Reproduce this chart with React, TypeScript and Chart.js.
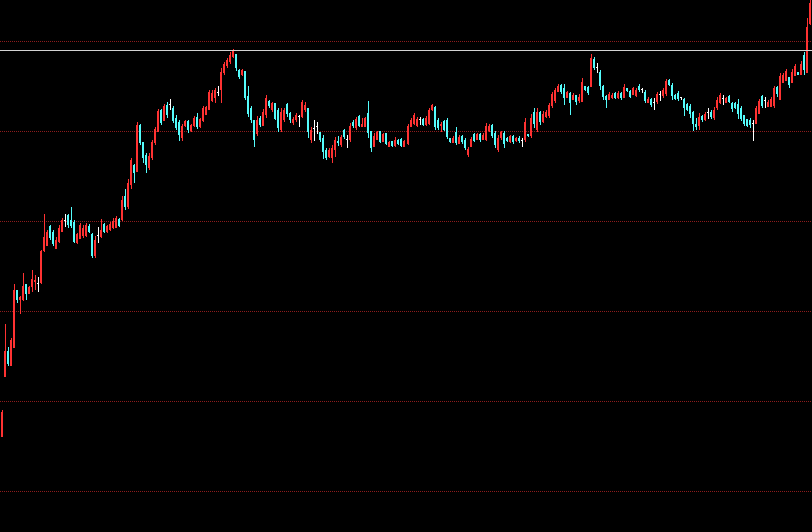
import React, { useEffect, useRef } from "react";
import { Chart, registerables } from "chart.js";

Chart.register(...registerables);

// Price values (arbitrary chart units), one entry per trading period, left to right.
const openPrices = [
  95, 155, 181, 166, 184, 242, 232, 232, 248, 238,
  245, 250, 248, 249, 281, 286, 306, 300, 283, 290,
  300, 311, 317, 312, 310, 289, 293, 296, 296, 306,
  298, 276, 296, 295, 308, 300, 302, 304, 304, 313,
  312, 336, 325, 347, 367, 360, 407, 390, 377, 364,
  374, 389, 400, 422, 411, 427, 427, 424, 414, 410,
  394, 406, 411, 401, 406, 415, 405, 411, 417, 422,
  431, 434, 439, 442, 459, 466, 470, 475, 478, 462,
  457, 461, 436, 424, 412, 398, 414, 406, 417, 431,
  422, 429, 422, 402, 412, 428, 419, 409, 412, 415,
  415, 422, 424, 392, 403, 405, 400, 394, 382, 375,
  374, 382, 391, 387, 402, 392, 392, 410, 404, 416,
  405, 405, 419, 401, 385, 392, 401, 390, 399, 385,
  391, 386, 392, 393, 385, 388, 405, 408, 406, 412,
  413, 407, 408, 422, 425, 412, 406, 411, 412, 394,
  389, 400, 388, 396, 392, 377, 385, 398, 392, 398,
  392, 392, 401, 407, 399, 382, 394, 399, 394, 390,
  396, 391, 394, 391, 392, 398, 396, 420, 402, 420,
  410, 415, 416, 426, 431, 440, 447, 444, 434, 439,
  432, 437, 431, 430, 446, 445, 445, 473, 464, 460,
  446, 436, 432, 434, 439, 434, 439, 434, 444, 441,
  437, 436, 446, 442, 440, 429, 433, 429, 430, 437,
  436, 438, 452, 447, 437, 439, 434, 433, 428, 426,
  420, 408, 406, 416, 412, 419, 420, 414, 424, 429,
  433, 429, 436, 429, 429, 428, 424, 417, 413, 412,
  408, 408, 418, 436, 431, 425, 425, 426, 445, 432,
  449, 451, 455, 449, 456, 460, 457, 477, 459, 508,
];

const highPrices = [
  122, 208, 185, 194, 248, 242, 236, 259, 248, 246,
  262, 257, 255, 282, 318, 302, 307, 302, 295, 307,
  314, 318, 318, 325, 312, 299, 309, 307, 309, 308,
  299, 296, 305, 313, 309, 307, 310, 314, 316, 314,
  336, 343, 353, 374, 368, 410, 408, 390, 379, 379,
  392, 405, 423, 423, 428, 430, 433, 426, 417, 412,
  408, 412, 412, 408, 416, 419, 414, 426, 426, 442,
  442, 444, 446, 464, 470, 474, 480, 483, 478, 463,
  463, 461, 446, 426, 412, 416, 416, 423, 437, 432,
  430, 429, 424, 424, 424, 429, 420, 415, 419, 417,
  432, 430, 424, 405, 412, 410, 400, 397, 384, 384,
  387, 395, 396, 397, 403, 397, 409, 412, 415, 417,
  414, 415, 431, 401, 399, 401, 401, 399, 399, 391,
  391, 395, 393, 394, 392, 408, 414, 419, 415, 415,
  414, 416, 424, 428, 426, 414, 410, 412, 414, 394,
  396, 405, 397, 397, 394, 385, 395, 399, 399, 399,
  399, 409, 408, 408, 401, 397, 401, 401, 395, 397,
  397, 395, 396, 394, 414, 398, 418, 424, 424, 421,
  421, 422, 429, 440, 444, 448, 448, 448, 441, 440,
  439, 437, 438, 454, 446, 446, 478, 475, 469, 462,
  447, 437, 440, 439, 440, 441, 440, 448, 444, 442,
  445, 444, 448, 444, 442, 435, 434, 434, 440, 441,
  444, 453, 453, 449, 438, 441, 435, 434, 429, 428,
  421, 414, 419, 417, 420, 424, 422, 425, 435, 439,
  437, 435, 437, 430, 430, 433, 426, 417, 413, 414,
  412, 426, 433, 437, 435, 432, 435, 446, 446, 459,
  459, 463, 455, 463, 468, 460, 471, 480, 514, 532,
];

const lowPrices = [
  95, 155, 166, 166, 184, 229, 218, 231, 232, 238,
  240, 242, 240, 248, 280, 286, 292, 286, 283, 289,
  300, 305, 304, 304, 289, 288, 293, 294, 295, 299,
  274, 274, 289, 294, 299, 299, 301, 303, 304, 305,
  311, 322, 323, 343, 349, 360, 387, 369, 359, 362,
  372, 387, 400, 407, 411, 414, 422, 409, 402, 391,
  391, 405, 399, 400, 405, 403, 404, 410, 417, 422,
  430, 429, 436, 429, 457, 464, 468, 474, 461, 453,
  456, 432, 415, 409, 385, 396, 405, 406, 414, 424,
  420, 412, 400, 400, 410, 415, 409, 407, 410, 405,
  414, 420, 394, 389, 391, 398, 390, 373, 372, 374,
  369, 375, 386, 385, 393, 384, 390, 404, 402, 405,
  405, 405, 394, 380, 385, 392, 389, 390, 387, 385,
  385, 385, 387, 385, 385, 387, 405, 407, 405, 407,
  406, 406, 407, 421, 402, 402, 400, 401, 393, 389,
  389, 387, 388, 388, 382, 375, 385, 390, 392, 390,
  392, 391, 400, 394, 384, 380, 392, 384, 390, 389,
  388, 390, 389, 385, 390, 395, 394, 404, 400, 407,
  409, 414, 414, 424, 429, 440, 438, 427, 434, 417,
  432, 427, 429, 430, 441, 437, 445, 462, 459, 442,
  432, 424, 432, 433, 433, 433, 432, 434, 440, 434,
  437, 435, 440, 439, 429, 429, 425, 422, 428, 431,
  434, 436, 446, 432, 432, 431, 432, 416, 421, 414,
  401, 402, 402, 410, 411, 413, 413, 412, 422, 428,
  427, 429, 429, 420, 423, 413, 411, 406, 405, 404,
  391, 408, 418, 424, 424, 425, 425, 424, 435, 432,
  449, 451, 444, 449, 456, 457, 457, 457, 459, 507,
];

const closePrices = [
  120, 181, 168, 192, 242, 232, 235, 246, 238, 245,
  253, 252, 248, 281, 295, 300, 294, 288, 292, 304,
  312, 311, 307, 306, 290, 298, 307, 304, 307, 300,
  276, 292, 296, 302, 300, 306, 308, 311, 314, 306,
  332, 325, 349, 372, 359, 407, 389, 374, 367, 376,
  390, 403, 421, 409, 426, 417, 427, 411, 404, 397,
  406, 411, 402, 407, 414, 405, 413, 424, 425, 440,
  439, 442, 439, 460, 468, 472, 477, 481, 464, 455,
  462, 434, 418, 412, 392, 412, 407, 420, 434, 426,
  429, 413, 404, 420, 422, 418, 412, 413, 417, 415,
  430, 427, 400, 402, 403, 405, 392, 380, 374, 382,
  384, 392, 389, 395, 395, 392, 406, 406, 413, 406,
  408, 414, 399, 384, 396, 400, 390, 398, 388, 390,
  386, 392, 388, 386, 391, 406, 412, 417, 413, 412,
  407, 414, 422, 427, 405, 404, 408, 402, 395, 390,
  394, 389, 395, 390, 384, 383, 393, 391, 398, 392,
  397, 406, 406, 396, 387, 394, 400, 388, 391, 396,
  390, 394, 391, 391, 410, 396, 414, 408, 420, 410,
  418, 420, 427, 438, 442, 446, 440, 434, 440, 429,
  437, 430, 435, 450, 442, 439, 474, 464, 464, 446,
  435, 432, 438, 437, 434, 439, 434, 445, 441, 435,
  444, 442, 442, 442, 431, 433, 427, 429, 438, 437,
  442, 451, 447, 436, 433, 433, 434, 424, 422, 418,
  408, 405, 415, 412, 418, 419, 415, 422, 432, 437,
  433, 434, 430, 423, 424, 418, 413, 408, 406, 407,
  408, 424, 431, 426, 431, 430, 433, 444, 438, 456,
  457, 461, 447, 460, 466, 457, 468, 462, 505, 529,
];

// Dotted horizontal grid levels and the solid reference level.
const gridLevels = [41, 131, 221, 311, 401, 491];
const referenceLevel = 482;
const axisMin = 0;
const axisMax = 532;

const periodLabels = openPrices.map((_, i) => String(i + 1));

const UP_COLOR = "#ff3232";
const DOWN_COLOR = "#54fcfc";
const FLAT_COLOR = "#ffffff";
const GRID_COLOR = "#8c1c1c";
const REF_COLOR = "#d4d4d4";
const BG_COLOR = "#000000";

export default function App() {
  const canvasRef = useRef<HTMLCanvasElement | null>(null);

  useEffect(() => {
    document.body.style.margin = "0";
    document.body.style.background = BG_COLOR;
    const canvas = canvasRef.current;
    if (!canvas) return;

    const colors = closePrices.map((c, i) =>
      c > openPrices[i] ? UP_COLOR : c < openPrices[i] ? DOWN_COLOR : FLAT_COLOR
    );

    const candlePlugin: any = {
      id: "candleStyle",
      beforeDraw(chart: any) {
        const ctx = chart.ctx;
        ctx.save();
        ctx.fillStyle = BG_COLOR;
        ctx.fillRect(0, 0, chart.width, chart.height);
        ctx.restore();
      },
      beforeDatasetsDraw(chart: any) {
        // dotted horizontal grid, positioned through the value scale
        const ctx = chart.ctx;
        const area = chart.chartArea;
        const yScale = chart.scales.y;
        ctx.save();
        ctx.fillStyle = GRID_COLOR;
        gridLevels.forEach((level) => {
          const y = Math.round(yScale.getPixelForValue(level));
          for (let x = Math.floor(area.left); x < area.right; x += 2) {
            ctx.fillRect(x, y, 1, 1);
          }
        });
        ctx.restore();
      },
      afterDatasetsUpdate(chart: any) {
        const bodies = chart.getDatasetMeta(0).data;
        bodies.forEach((el: any) => {
          el.x = Math.round(el.x);
          el.y = Math.round(el.y);
          el.base = Math.round(el.base);
        });
        const wicks = chart.getDatasetMeta(1).data;
        wicks.forEach((el: any) => {
          el.x = Math.round(el.x) + 0.5;
          el.y = Math.round(el.y);
          el.base = Math.round(el.base);
        });
      },
      afterDatasetsDraw(chart: any) {
        const ctx = chart.ctx;
        const area = chart.chartArea;
        const y = Math.round(chart.scales.y.getPixelForValue(referenceLevel)) + 0.5;
        ctx.save();
        ctx.strokeStyle = REF_COLOR;
        ctx.lineWidth = 1;
        ctx.beginPath();
        ctx.moveTo(area.left, y);
        ctx.lineTo(area.right, y);
        ctx.stroke();
        ctx.restore();
      },
    };

    const chart = new Chart(canvas, {
      type: "bar",
      data: {
        labels: periodLabels,
        datasets: [
          {
            label: "body",
            data: openPrices.map((o, i) => [o, closePrices[i]]),
            backgroundColor: colors,
            barThickness: 2,
            minBarLength: 1,
            grouped: false,
            borderWidth: 0,
            inflateAmount: 0,
          } as any,
          {
            label: "wick",
            data: lowPrices.map((l, i) => [l, highPrices[i]]),
            backgroundColor: colors,
            barThickness: 1,
            minBarLength: 1,
            grouped: false,
            borderWidth: 0,
            inflateAmount: 0,
          } as any,
        ],
      },
      options: {
        animation: false,
        responsive: false,
        devicePixelRatio: 1,
        events: [],
        layout: { padding: 0 },
        plugins: {
          legend: { display: false },
          tooltip: { enabled: false },
        },
        scales: {
          x: { display: false },
          y: { display: false, min: axisMin, max: axisMax },
        },
      } as any,
      plugins: [candlePlugin],
    });

    return () => chart.destroy();
  }, []);

  return (
    <canvas
      ref={canvasRef}
      width={812}
      height={532}
      style={{ display: "block", background: BG_COLOR }}
    />
  );
}
